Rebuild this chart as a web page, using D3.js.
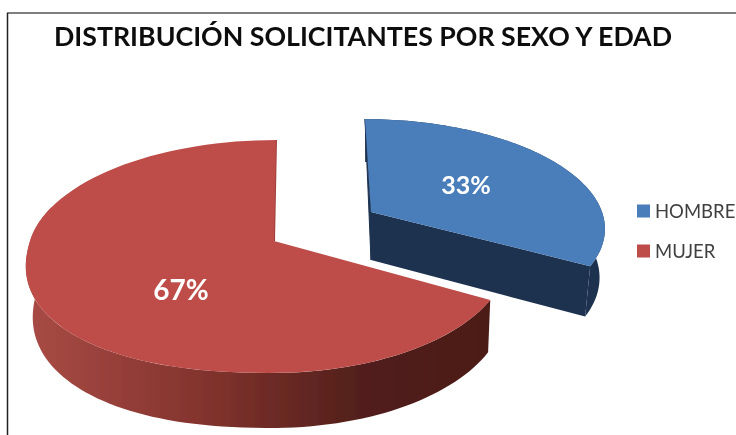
<!DOCTYPE html>
<html>
<head>
<meta charset="utf-8">
<script src="https://cdnjs.cloudflare.com/ajax/libs/d3/7.8.5/d3.min.js"></script>
<style>
    html, body { margin: 0; padding: 0; background: #fff; overflow: hidden; }
    svg { display: block; }
</style>
</head>
<body>
<div id="app"></div>
<script>
var chartTitle = 'DISTRIBUCIÓN SOLICITANTES POR SEXO Y EDAD';
var categories = ['HOMBRE', 'MUJER'];
var percentValues = [33, 67];

var width = 736, height = 435;

// one entry per slice, same order as categories
var sliceLayout = [
    {top: '#4a7ebb', side: '#1f3250', edge: '#1f3250', apexX: 371, apexY: 212, radiusLeft: 231, radiusRight: 231, fullness: 1,
        scaleY: 0.92, tilt: 6, shrinkLeft: 0.977, shrinkRight: 0.977, depth: 48, depthSlope: 5,
        labelX: 466, labelY: 185, labelSize: 25},
    {top: '#be4d4a', side: 'url(#redSide)', edge: '#a0403c', apexX: 274, apexY: 241, radiusLeft: 244, radiusRight: 232, fullness: 0.88,
        scaleY: 1, tilt: -2, shrinkLeft: 0.972, shrinkRight: 0.99, depth: 50, depthSlope: 5,
        labelX: 181, labelY: 290, labelSize: 28}
];

var perspective = -0.133;
var ellipseY = 114.4;

var svg = d3.select('#app').append('svg')
    .attr('width', width)
    .attr('height', height);

var defs = svg.append('defs');

defs.append('filter').attr('id', 'soft')
    .attr('x', '-2%').attr('y', '-2%').attr('width', '104%').attr('height', '104%')
    .append('feGaussianBlur').attr('stdDeviation', 0.55);

var redSide = defs.append('linearGradient').attr('id', 'redSide')
    .attr('gradientUnits', 'userSpaceOnUse')
    .attr('x1', 30).attr('x2', 490).attr('y1', 0).attr('y2', 0);
redSide.append('stop').attr('offset', '0%').attr('stop-color', '#a84b45');
redSide.append('stop').attr('offset', '35%').attr('stop-color', '#86352f');
redSide.append('stop').attr('offset', '72%').attr('stop-color', '#521f1b');
redSide.append('stop').attr('offset', '100%').attr('stop-color', '#4c1c18');

var root = svg.append('g').attr('filter', 'url(#soft)');

// frame, only top and left are inside the crop
root.append('line').attr('x1', 7).attr('x2', width).attr('y1', 13).attr('y2', 13)
    .attr('stroke', '#555').attr('stroke-width', 1.5);
root.append('line').attr('x1', 7.5).attr('x2', 7.5).attr('y1', 13).attr('y2', height)
    .attr('stroke', '#222').attr('stroke-width', 1.5);

root.append('text')
    .attr('x', 54).attr('y', 46)
    .attr('font-family', 'Lato')
    .attr('font-weight', 700)
    .attr('font-size', 27)
    .attr('fill', '#111')
    .attr('textLength', 618)
    .attr('lengthAdjust', 'spacingAndGlyphs')
    .text(chartTitle);

var pie = d3.pie().sort(null);
var arcs = pie(percentValues);

// angle measured clockwise from the top, tilted plane to screen
function project(slice, angle, r, bottom) {
    var u = Math.sin(angle) * r;
    var v = -Math.cos(angle) * r;
    // the lower left of the big slice is fuller than a true ellipse
    if (u < 0 && v > 0) {
        u = -Math.pow(-u, slice.fullness);
        v = Math.pow(v, slice.fullness);
    }
    var w = 1 + perspective * v;
    var radius = u < 0 ? slice.radiusLeft : slice.radiusRight;
    var x = radius * u / w + slice.tilt * v;
    var y = slice.scaleY * ellipseY * v / w;
    if (bottom) {
        x = x * (u < 0 ? slice.shrinkLeft : slice.shrinkRight);
        y = y + slice.depth + slice.depthSlope * v;
    }
    return [slice.apexX + x, slice.apexY + y];
}

function arcPoints(slice, a0, a1, bottom) {
    var steps = 90, points = [], i;
    for (i = 0; i <= steps; i++) {
        points.push(project(slice, a0 + (a1 - a0) * i / steps, 1, bottom));
    }
    return points;
}

var polygon = d3.line();

function drawSlice(slice, arc) {
    var topArc = arcPoints(slice, arc.startAngle, arc.endAngle, false);
    var bottomArc = arcPoints(slice, arc.startAngle, arc.endAngle, true);
    // the back of the rim is hidden under the top face
    var rimEnd = Math.min(arc.endAngle, Math.PI * 1.6);
    var rimTop = arcPoints(slice, arc.startAngle, rimEnd, false);
    var rimBottom = arcPoints(slice, arc.startAngle, rimEnd, true);
    var apexTop = project(slice, 0, 0, false);
    var apexBottom = project(slice, 0, 0, true);
    var endTop = topArc[topArc.length - 1], endBottom = bottomArc[bottomArc.length - 1];
    var group = root.append('g');

    if (arc.startAngle === 0) {
        // the two cut faces only show on the exploded slice
        group.append('path')
            .attr('d', polygon([topArc[0], apexBottom, apexTop]) + 'Z')
            .attr('fill', slice.side).attr('stroke', slice.side).attr('stroke-width', 1);
        group.append('path')
            .attr('d', polygon([apexTop, endTop, endBottom, apexBottom]) + 'Z')
            .attr('fill', slice.side);
    } else {
        // thin darker sliver along the back cut of the big slice
        group.append('path')
            .attr('d', polygon([apexTop, endTop]))
            .attr('fill', 'none').attr('stroke', slice.edge).attr('stroke-width', 2);
    }
    group.append('path')
        .attr('d', polygon(rimTop.concat(rimBottom.slice().reverse())) + 'Z')
        .attr('fill', slice.side);
    group.append('path')
        .attr('d', polygon([apexTop].concat(topArc)) + 'Z')
        .attr('fill', slice.top);
}

arcs.forEach(function(arc, i) {
    drawSlice(sliceLayout[i], arc);
});

arcs.forEach(function(arc, i) {
    root.append('text')
        .attr('x', sliceLayout[i].labelX)
        .attr('y', sliceLayout[i].labelY)
        .attr('dy', '0.36em')
        .attr('text-anchor', 'middle')
        .attr('font-family', 'Lato')
        .attr('font-weight', 700)
        .attr('font-size', sliceLayout[i].labelSize)
        .attr('fill', '#fff')
        .text(percentValues[i] + '%');
});

var legendY = d3.scalePoint().domain(categories).range([211, 251]);

categories.forEach(function(name, i) {
    root.append('rect')
        .attr('x', 637).attr('y', legendY(name) - 6.5)
        .attr('width', 13).attr('height', 13)
        .attr('fill', sliceLayout[i].top);
    root.append('text')
        .attr('x', 655).attr('y', legendY(name) + 6.5)
        .attr('font-family', 'Lato')
        .attr('font-size', 18.5)
        .attr('fill', '#404040')
        .text(name);
});
</script>
</body>
</html>
